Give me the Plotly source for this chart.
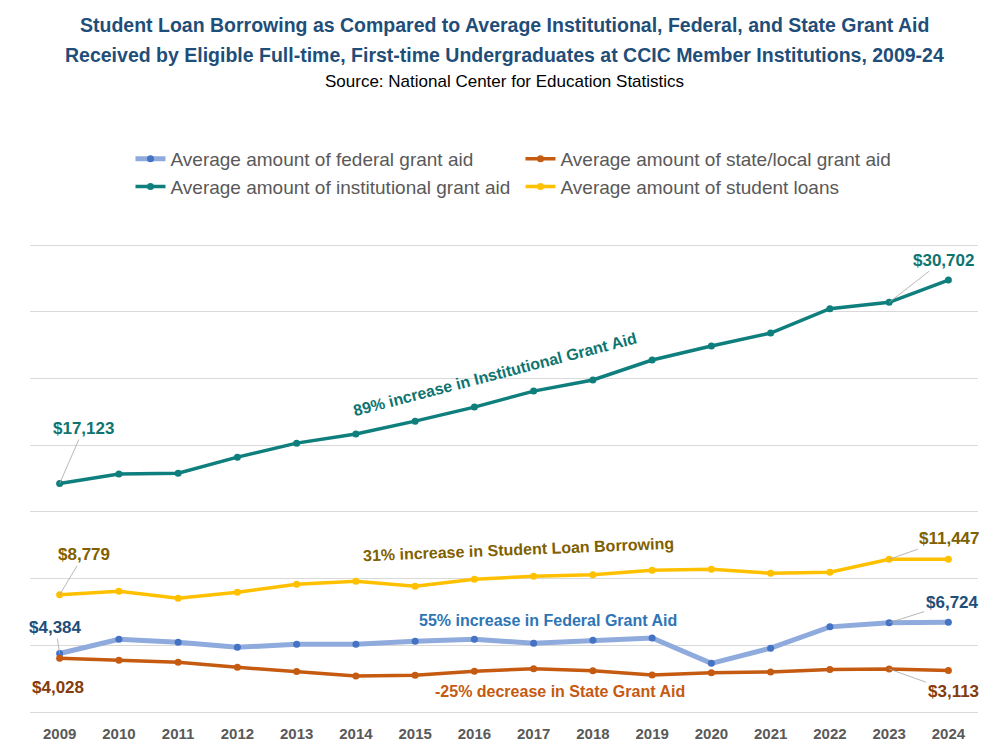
import plotly.graph_objects as go

years = list(range(2009, 2025))
federal = [4384, 5450, 5230, 4850, 5080, 5080, 5300, 5450, 5150, 5380, 5550, 3650, 4780, 6380, 6690, 6724]
state = [4028, 3880, 3730, 3350, 3030, 2700, 2750, 3050, 3250, 3100, 2780, 2950, 3000, 3180, 3225, 3113]
institutional = [17123, 17830, 17900, 19100, 20150, 20830, 21800, 22850, 24050, 24880, 26380, 27430, 28400, 30230, 30702, 32370]
loans = [8779, 9050, 8530, 8980, 9580, 9800, 9430, 9950, 10180, 10280, 10630, 10700, 10400, 10480, 11447, 11447]

names = ["Average amount of federal grant aid", "Average amount of state/local grant aid",
         "Average amount of institutional grant aid", "Average amount of student loans"]

fig = go.Figure()
fig.add_trace(go.Scatter(x=years, y=federal, name=names[0], mode="lines+markers",
                         line=dict(color="#8FAADC", width=5), marker=dict(color="#4472C4", size=7)))
fig.add_trace(go.Scatter(x=years, y=state, name=names[1], mode="lines+markers",
                         line=dict(color="#C55A11", width=3.5), marker=dict(color="#C55A11", size=7)))
fig.add_trace(go.Scatter(x=years, y=institutional, name=names[2], mode="lines+markers",
                         line=dict(color="#0E7F7C", width=3.5), marker=dict(color="#0E7F7C", size=7)))
fig.add_trace(go.Scatter(x=years, y=loans, name=names[3], mode="lines+markers",
                         line=dict(color="#FFC000", width=3.5), marker=dict(color="#FFC000", size=7)))

lab_font = "Liberation Sans, Arial, sans-serif"

def val_label(x, y, text, color, ax, ay, arrow=True):
    kw = dict(ax=ax, ay=ay) if arrow else dict(xshift=ax, yshift=-ay)
    fig.add_annotation(x=x, y=y, text="<b>" + text + "</b>", showarrow=arrow,
                       arrowhead=0, arrowwidth=0.8, arrowcolor="#A6A6A6", standoff=0,
                       font=dict(family=lab_font, size=17, color=color), **kw)

val_label(2009, institutional[0], "$17,123", "#0E7470", 24, -55)
val_label(2023, institutional[14], "$30,702", "#0E7470", 54, -42)
val_label(2009, loans[0], "$8,779", "#806000", 24, -40)
val_label(2023, loans[14], "$11,447", "#806000", 60, -21)
val_label(2009, federal[0], "$4,384", "#1F4E79", -4, -26)
val_label(2023, federal[14], "$6,724", "#1F4E79", 63, -20)
val_label(2009, state[0], "$4,028", "#843C0C", -2, 29, arrow=False)
val_label(2023, state[14], "$3,113", "#843C0C", 64, 23)

def note(x, y, text, color, angle=0):
    fig.add_annotation(x=x, y=y, text="<b>" + text + "</b>", showarrow=False, textangle=angle,
                       font=dict(family=lab_font, size=16, color=color))

note(2016.34, 25300, "89% increase in Institutional Grant Aid", "#0E7470", -14.5)
note(2016.75, 12150, "31% increase in Student Loan Borrowing", "#7F6000", -2.3)
note(2017.24, 6825, "55% increase in Federal Grant Aid", "#2E75B6")
note(2017.44, 1500, "-25% decrease in State Grant Aid", "#C55A11")

# plot area: 243..714 px, y range -150..35150 -> 0 at 712 px, 35000 at 245 px
top_px, bot_px = 243, 714
def py(p):
    return (bot_px - p) / (bot_px - top_px)

fig.add_annotation(xref="paper", yref="paper", x=0.5, y=py(25), yanchor="middle",
                   text="<b>Student Loan Borrowing as Compared to Average Institutional, Federal, and State Grant Aid</b>",
                   showarrow=False, font=dict(family=lab_font, size=19.5, color="#1F4E79"))
fig.add_annotation(xref="paper", yref="paper", x=0.5, y=py(55), yanchor="middle",
                   text="<b>Received by Eligible Full-time, First-time Undergraduates at CCIC Member Institutions, 2009-24</b>",
                   showarrow=False, font=dict(family=lab_font, size=19.5, color="#1F4E79"))
fig.add_annotation(xref="paper", yref="paper", x=0.5, y=py(81), yanchor="middle",
                   text="Source: National Center for Education Statistics",
                   showarrow=False, font=dict(family=lab_font, size=17, color="#000000"))

fig.update_layout(
    width=1000, height=755,
    margin=dict(l=30, r=22, t=top_px, b=755 - bot_px, autoexpand=False),
    plot_bgcolor="white", paper_bgcolor="white",
    showlegend=True,
    legend=dict(orientation="h", x=0.106, xanchor="left", y=py(140), yanchor="top",
                entrywidth=345, tracegroupgap=0, itemwidth=30,
                font=dict(family=lab_font, size=19, color="#595959")),
    xaxis=dict(range=[2008.5, 2024.5], tickmode="array", tickvals=years,
               ticktext=["<b>%d</b>" % y for y in years], showgrid=False, zeroline=False,
               showline=False, ticks="", ticklabelstandoff=9, automargin=False,
               tickfont=dict(family=lab_font, size=15, color="#595959")),
    yaxis=dict(range=[-150, 35150], tickmode="array", tickvals=[5000 * i for i in range(8)],
               showticklabels=False, showgrid=True, automargin=False,
               gridcolor="#D9D9D9", gridwidth=1.3, zeroline=True, zerolinecolor="#D9D9D9",
               zerolinewidth=1.3, showline=False),
)

fig.write_html("out.html")
